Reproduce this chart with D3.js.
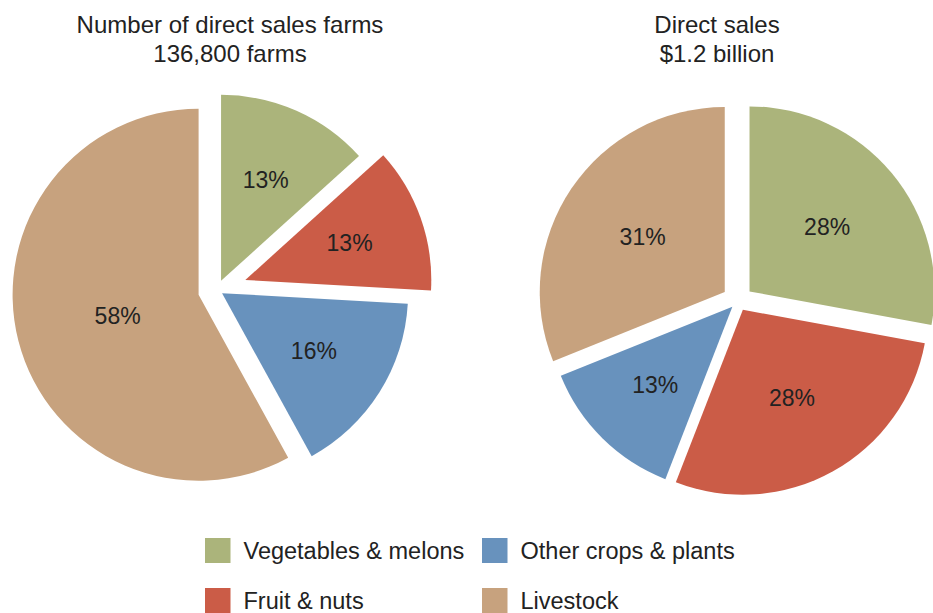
<!DOCTYPE html>
<html>
<head>
<meta charset="utf-8">
<script src="https://cdn.jsdelivr.net/npm/d3@7"></script>
<style>
  body{margin:0;background:#fff;}
  svg text{font-family:"Liberation Sans",Arial,Helvetica,sans-serif;fill:#222;}
</style>
</head>
<body>
<svg id="chart"></svg>
<script>
// categories and shares (percent)
var categories=["Vegetables & melons","Fruit & nuts","Other crops & plants","Livestock"];
var farmShares=[13.3,12.6,16.1,58.0];
var salesShares=[27.9,28.0,13.0,31.1];
var farmTitle=["Number of direct sales farms","136,800 farms"];
var salesTitle=["Direct sales","$1.2 billion"];
var colors=["#abb47b","#cb5c47","#6892bd","#c7a27e"];

// legend order (2 x 2 grid)
var legendOrder=[0,2,1,3];

var screen={width:933,height:613}

var svg=d3.select("#chart")
    .attr("width",screen.width)
    .attr("height",screen.height)

var color=d3.scaleOrdinal()
    .domain(categories)
    .range(colors)

//one exploded pie
var drawPie=function(values,title,opts){
    var g=svg.append("g")
        .attr("transform","translate("+opts.cx+","+opts.cy+")")

    var pie=d3.pie().sort(null).value(function(d){return d.value})
    var arcs=pie(values.map(function(v,i){return {name:categories[i],value:v,explode:opts.explode[i]}}))
    var total=d3.sum(values)

    var arc=d3.arc().innerRadius(0).outerRadius(opts.r)

    var slices=g.selectAll("g.slice")
        .data(arcs)
        .enter()
        .append("g")
        .classed("slice",true)
        .attr("transform",function(d){
            var mid=(d.startAngle+d.endAngle)/2
            return "translate("+(d.data.explode*Math.sin(mid))+","+(-d.data.explode*Math.cos(mid))+")"
        })

    slices.append("path")
        .attr("d",arc)
        .attr("fill",function(d){return color(d.data.name)})

    // label distance shrinks a bit for the bigger slices
    var labelPos=function(d){
        var mid=(d.startAngle+d.endAngle)/2
        var f=0.635-0.32*d.data.value/total
        return [f*opts.r*Math.sin(mid),-f*opts.r*Math.cos(mid)]
    }
    slices.append("text")
        .attr("text-anchor","middle")
        .attr("dy","0.36em")
        .style("font-size","23px")
        .attr("x",function(d){return labelPos(d)[0]})
        .attr("y",function(d){return labelPos(d)[1]})
        .text(function(d){return Math.round(d.data.value)+"%"})

    svg.append("text")
        .attr("text-anchor","middle")
        .style("font-size","24px")
        .selectAll("tspan")
        .data(title)
        .enter()
        .append("tspan")
        .attr("x",opts.tx)
        .attr("y",function(d,i){return 33+i*29})
        .text(function(d){return d})
}

drawPie(farmShares,farmTitle,{cx:217,cy:290,r:186,explode:[10,30,6,19],tx:230})
drawPie(salesShares,salesTitle,{cx:738,cy:301,r:185,explode:[15,10,8,16],tx:717})

//legend
var legend=svg.append("g").classed("legend",true)
var items=legend.selectAll("g")
    .data(legendOrder)
    .enter()
    .append("g")
    .attr("transform",function(d,i){
        var col=i%2, row=Math.floor(i/2)
        return "translate("+(col==0?205:482)+","+(538+row*50)+")"
    })
items.append("rect")
    .attr("width",25.5)
    .attr("height",25)
    .attr("fill",function(d){return color(categories[d])})
items.append("text")
    .attr("x",38.5)
    .attr("y",21)
    .style("font-size","23.5px")
    .text(function(d){return categories[d]})
</script>
</body>
</html>
